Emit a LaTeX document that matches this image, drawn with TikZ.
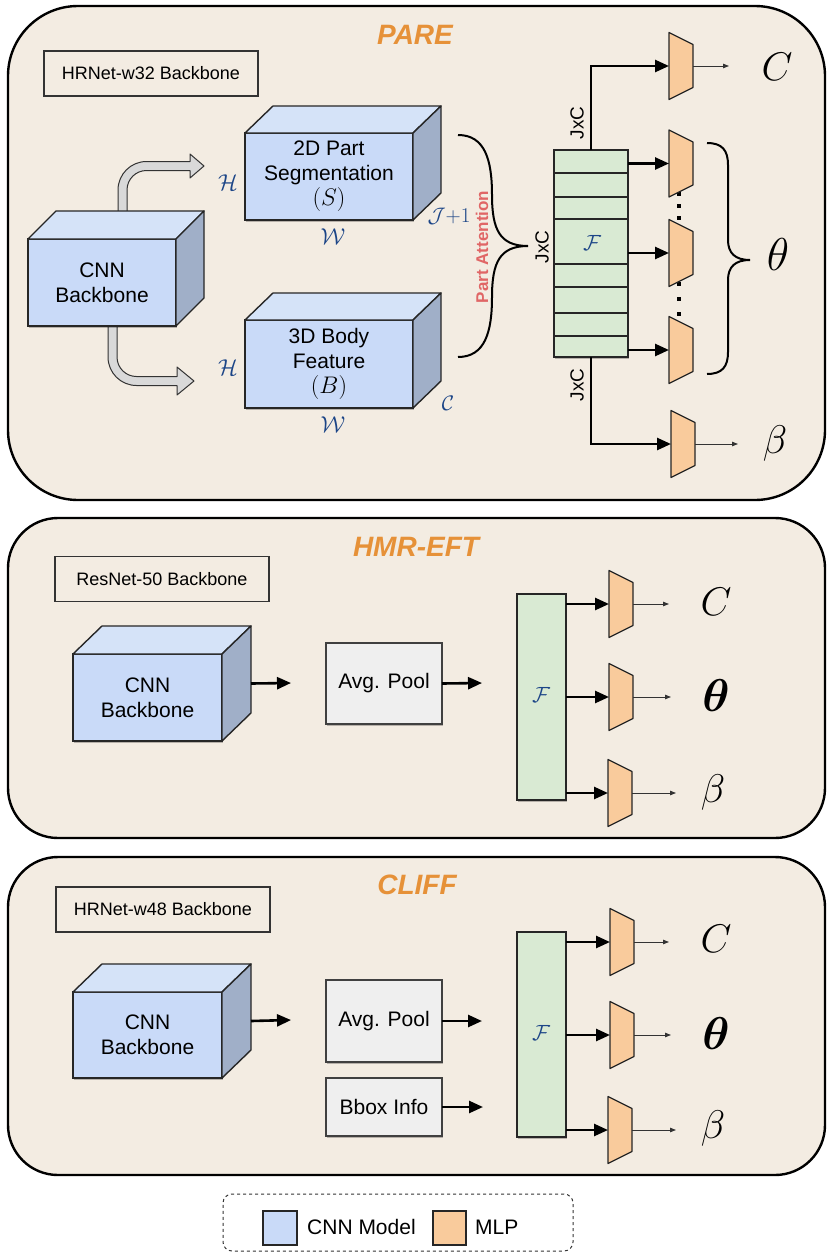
\RequirePackage{fix-cm}
\documentclass[tikz,border=0pt]{standalone}
\usepackage{bm}
\usepackage[no-math]{fontspec}
\setmainfont{Liberation Sans}
\usetikzlibrary{arrows.meta,shadows}
\definecolor{panelbg}{HTML}{F3ECE2}
\definecolor{cubefront}{HTML}{C9DAF8}
\definecolor{cubetop}{HTML}{D5E3F8}
\definecolor{cubeside}{HTML}{A0AFC8}
\definecolor{featgreen}{HTML}{D9EAD3}
\definecolor{mlporange}{HTML}{F9CB9C}
\definecolor{boxgray}{HTML}{EFEFEF}
\definecolor{fatgray}{HTML}{D9D9D9}
\definecolor{titleorange}{HTML}{E69138}
\definecolor{attnred}{HTML}{E06666}
\definecolor{mathblue}{HTML}{1C4587}
\newcommand{\mlpat}[3]{%
  \coordinate (#1) at (#2,#3);
  \draw[mlpfill] ([shift={(0,-33.5)}]#1) -- ([shift={(24,-21.5)}]#1) -- ([shift={(24,21.5)}]#1) -- ([shift={(0,33.5)}]#1) -- cycle;
  \coordinate (#1-out) at ([shift={(24,0)}]#1);
}
\newcommand{\cubesides}[3]{%
  \draw[cubeedge, fill=cubetop] (#1.north west) -- ([shift={(#2,-#3)}]#1.north west) -- ([shift={(#2,-#3)}]#1.north east) -- (#1.north east) -- cycle;
  \draw[cubeedge, fill=cubeside] (#1.north east) -- ([shift={(#2,-#3)}]#1.north east) -- ([shift={(#2,-#3)}]#1.south east) -- (#1.south east) -- cycle;
}
\newcommand{\bigmath}[1]{{\fontsize{24}{25}\selectfont$#1$}}
\begin{document}
\begin{tikzpicture}[x=1pt,y=-1pt,
  panel/.style={draw=black, line width=2.4pt, fill=panelbg, rounded corners=#1, inner sep=0pt, outer sep=0pt},
  paneltitle/.style={text=titleorange, font=\fontsize{28}{32}\selectfont\bfseries\itshape, inner sep=0pt},
  netbox/.style={draw=black!80, line width=1.2pt, font=\fontsize{18}{21}\selectfont, minimum width=214pt, minimum height=45pt, inner sep=0pt},
  shad/.style={drop shadow={shadow xshift=1.2pt, shadow yshift=-1.8pt, opacity=0.25, fill=black}},
  front/.style={shad, draw=black!85, line width=1.4pt, fill=cubefront, align=center, font=\fontsize{21}{25}\selectfont, inner sep=0pt, outer sep=0pt},
  cubeedge/.style={draw=black!85, line width=1.4pt, line join=round},
  graybox/.style={shad, draw=black!75, line width=1.3pt, fill=boxgray, font=\fontsize{21}{25}\selectfont, minimum width=116pt, inner sep=0pt, outer sep=0pt},
  featcol/.style={shad, draw=black!85, line width=1.4pt, fill=featgreen, inner sep=0pt, outer sep=0pt},
  rowline/.style={draw=black!85, line width=1.2pt},
  mlpfill/.style={draw=black!85, line width=1.2pt, fill=mlporange, line join=round},
  flow/.style={line width=2.6pt, -{Triangle[length=14pt,width=12pt]}},
  outarrow/.style={line width=0.9pt, draw=black!80, -{Triangle[length=6pt,width=4.5pt]}},
  fatarrow/.style={draw=black!80, line width=1pt, fill=fatgray, line join=round},
  mathlab/.style={font=\fontsize{40}{48}\selectfont, inner sep=0pt},
  thetalab/.style={font=\fontsize{46}{52}\selectfont, inner sep=0pt},
  dimlab/.style={text=mathblue, font=\fontsize{23}{26}\selectfont, inner sep=0pt},
  featlab/.style={text=mathblue, font=\fontsize{22}{26}\selectfont, inner sep=0pt},
  jxc/.style={rotate=90, font=\fontsize{19}{22}\selectfont, inner sep=0pt},
  brace/.style={draw=black, line width=2pt},
  legtext/.style={font=\fontsize{21}{25}\selectfont, anchor=west, inner sep=0pt}
]
\useasboundingbox (0,0) rectangle (830,1253);
\fill[white] (0,0) rectangle (830,1253);

% ================= PARE =================
\node[panel=70, minimum width=817pt, minimum height=494pt] (pare) at (416.5,253) {};
\node[paneltitle] (pareT) at (415,35) {PARE};
\node[netbox] (hr32) at (151,73.5) {HRNet-w32 Backbone};

% fat arrows (behind the cube)
\draw[fatarrow] (118,225) -- (118,190) arc[start angle=180, end angle=270, radius=28.5] -- (190,161.5) -- (190,154) -- (204,166) -- (190,178) -- (190,170.5) -- (146.5,170.5) arc[start angle=270, end angle=180, radius=19.5] -- (127,225) -- cycle;
\draw[fatarrow] (108,315) -- (108,357) arc[start angle=180, end angle=90, radius=28.5] -- (177,385.5) -- (177,395) -- (194,381) -- (177,367) -- (177,376.5) -- (136.5,376.5) arc[start angle=90, end angle=180, radius=19.5] -- (117,315) -- cycle;

\node[front, minimum width=148pt, minimum height=87pt] (cnn1) at (102,282.5) {CNN\\Backbone};
\cubesides{cnn1}{28}{28}
\node[front, minimum width=168pt, minimum height=87pt] (seg) at (329,176.5) {2D Part\\Segmentation\\\bigmath{(S)}};
\cubesides{seg}{28}{27}
\node[front, minimum width=168pt, minimum height=88pt] (body) at (329,364) {3D Body\\Feature\\\bigmath{(B)}};
\cubesides{body}{28}{27}

\node[dimlab] (segH) at (228,183) {$\mathcal{H}$};
\node[dimlab] (segW) at (333,237) {$\mathcal{W}$};
\node[dimlab, font=\fontsize{21}{24}\selectfont] (segJ) at (449,216) {$\mathcal{J}{+}1$};
\node[dimlab] (bodyH) at (228,368) {$\mathcal{H}$};
\node[dimlab] (bodyW) at (333,425) {$\mathcal{W}$};
\node[dimlab, font=\fontsize{21}{24}\selectfont] (bodyC) at (448,403) {$\mathcal{C}$};

% part attention brace
\draw[brace] (458,135) .. controls (485,135) and (492,160) .. (492,195) .. controls (492,230) and (500,246) .. (528,246) .. controls (500,246) and (492,262) .. (492,297) .. controls (492,332) and (485,357) .. (458,357);
\node[rotate=90, text=attnred, font=\fontsize{17}{20}\selectfont\bfseries, inner sep=0pt] (attn) at (482,247) {Part Attention};
\node[jxc] (jxcA) at (542,247) {JxC};

% feature column
\node[featcol, minimum width=74pt, minimum height=207pt] (feat1) at (591,253.5) {};
\foreach \yy in {173,197,219,264,287,313,336} \draw[rowline] (554,\yy) -- (628,\yy);
\node[featlab] (F1) at (592,243) {$\mathcal{F}$};

% dots
\foreach \yy in {194,206,218,284,299,314} \fill[black] (677,\yy-2) rectangle (681,\yy+2);

% MLPs
\mlpat{mC}{669}{66}
\mlpat{mT1}{669}{163.5}
\mlpat{mT2}{669}{253}
\mlpat{mT3}{669}{350}
\mlpat{mB}{671}{444}

\draw[flow] (feat1.north) |- (mC);
\draw[flow] (feat1.south) |- (mB);
\draw[flow] (feat1.east |- mT1) -- (mT1);
\draw[flow] (feat1.east |- mT2) -- (mT2);
\draw[flow] (feat1.east |- mT3) -- (mT3);
\node[jxc] (jxcB) at (577,123) {JxC};
\node[jxc] (jxcC) at (577,385) {JxC};

\coordinate (oC) at (729,66);
\coordinate (oB) at (738,444);
\draw[outarrow] (mC-out) -- (oC);
\draw[outarrow] (mB-out) -- (oB);

\draw[brace] (707,143) .. controls (722,143) and (728,150) .. (728,165) -- (728,240) .. controls (728,253) and (735,260) .. (750,260) .. controls (735,260) and (728,267) .. (728,280) -- (728,352) .. controls (728,367) and (722,374) .. (707,374);

\node[mathlab] (lC1) at (777,67) {$C$};
\node[thetalab] (lT1) at (778,255) {$\theta$};
\node[mathlab] (lB1) at (775,443) {$\beta$};

% ================= HMR-EFT =================
\node[panel=50, minimum width=817pt, minimum height=320pt] (hmr) at (416.5,678) {};
\node[paneltitle] (hmrT) at (416,547) {HMR-EFT};
\node[netbox] (res50) at (162,579) {ResNet-50 Backbone};
\node[front, minimum width=149pt, minimum height=87pt] (cnn2) at (147.5,697.5) {CNN\\Backbone};
\cubesides{cnn2}{29}{28}
\node[graybox, minimum height=81pt] (pool2) at (384,683.5) {Avg. Pool};
\node[featcol, minimum width=49pt, minimum height=206pt] (feat2) at (541.5,697) {};
\node[featlab] (F2) at (541,695) {$\mathcal{F}$};
\coordinate (c2a) at (291,683);
\coordinate (c2b) at (482,683);
\draw[flow] ([shift={(29,-14)}]cnn2.east) -- (c2a);
\draw[flow] (pool2.east) -- (c2b);
\mlpat{hC}{609}{604}
\mlpat{hT}{609}{697}
\mlpat{hB}{608}{793}
\draw[flow] (feat2.east |- hC) -- (hC);
\draw[flow] (feat2.east |- hT) -- (hT);
\draw[flow] (feat2.east |- hB) -- (hB);
\coordinate (hoC) at (669,604);
\coordinate (hoT) at (671,697);
\coordinate (hoB) at (676,793);
\draw[outarrow] (hC-out) -- (hoC);
\draw[outarrow] (hT-out) -- (hoT);
\draw[outarrow] (hB-out) -- (hoB);
\node[mathlab] (lC2) at (716,602) {$C$};
\node[thetalab] (lT2) at (716,696) {$\bm{\theta}$};
\node[mathlab] (lB2) at (713,792) {$\beta$};

% ================= CLIFF =================
\node[panel=50, minimum width=817pt, minimum height=318pt] (cliff) at (416.5,1016) {};
\node[paneltitle] (cliffT) at (417,885) {CLIFF};
\node[netbox] (hr48) at (163,909.5) {HRNet-w48 Backbone};
\node[front, minimum width=149pt, minimum height=86pt] (cnn3) at (147.5,1035) {CNN\\Backbone};
\cubesides{cnn3}{29}{28}
\node[graybox, minimum height=82pt] (pool3) at (384,1021) {Avg. Pool};
\node[graybox, minimum height=58pt] (bbox3) at (384,1107) {Bbox Info};
\node[featcol, minimum width=49pt, minimum height=205pt] (feat3) at (541.5,1034.5) {};
\node[featlab] (F3) at (541,1033) {$\mathcal{F}$};
\coordinate (c3a) at (291,1020);
\coordinate (c3b) at (482,1021);
\coordinate (c3c) at (483,1107);
\draw[flow] ([shift={(29,-14)}]cnn3.east) -- (c3a);
\draw[flow] (pool3.east) -- (c3b);
\draw[flow] (bbox3.east) -- (c3c);
\mlpat{cC}{610}{942}
\mlpat{cT}{610}{1035}
\mlpat{cB}{608}{1130}
\draw[flow] (feat3.east |- cC) -- (cC);
\draw[flow] (feat3.east |- cT) -- (cT);
\draw[flow] (feat3.east |- cB) -- (cB);
\coordinate (coC) at (669,942);
\coordinate (coT) at (671,1035);
\coordinate (coB) at (676,1130);
\draw[outarrow] (cC-out) -- (coC);
\draw[outarrow] (cT-out) -- (coT);
\draw[outarrow] (cB-out) -- (coB);
\node[mathlab] (lC3) at (716,939) {$C$};
\node[thetalab] (lT3) at (716,1034) {$\bm{\theta}$};
\node[mathlab] (lB3) at (713,1128) {$\beta$};

% ================= Legend =================
\node[draw=black!80, dashed, line width=1pt, rounded corners=9pt, minimum width=350pt, minimum height=57pt, inner sep=0pt] (legend) at (398,1222.5) {};
\node[draw=black!85, line width=1.2pt, fill=cubefront, minimum width=34pt, minimum height=34pt, inner sep=0pt] (legCNN) at (280,1228) {};
\node[legtext] (legCNNt) at (307,1227) {CNN Model};
\node[draw=black!85, line width=1.2pt, fill=mlporange, minimum width=33pt, minimum height=34pt, inner sep=0pt] (legMLP) at (449.5,1228) {};
\node[legtext] (legMLPt) at (475,1227) {MLP};
\end{tikzpicture}
\end{document}
